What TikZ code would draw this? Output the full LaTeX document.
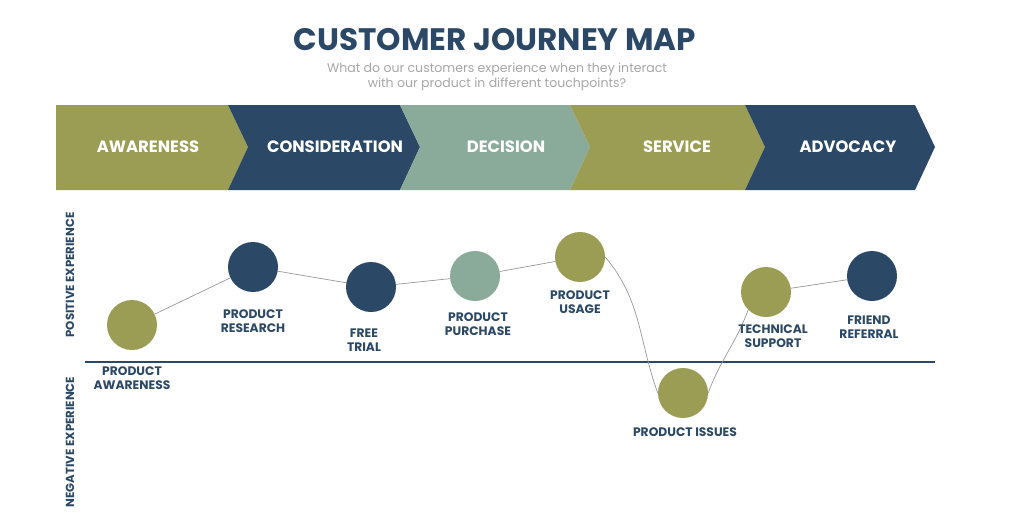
\documentclass[tikz,border=0pt]{standalone}
\usepackage{fontspec}
\setmainfont{Poppins}
\usetikzlibrary{positioning}
\definecolor{olive}{HTML}{9C9D55}
\definecolor{navy}{HTML}{2B4866}
\definecolor{sage}{HTML}{8AAA9A}
\begin{document}
\begin{tikzpicture}[x=0.03cm,y=-0.03cm]
\tikzset{
  stage/.style={text=white,font=\bfseries\fontsize{14}{14}\selectfont},
  dot/.style={circle,minimum size=1.5cm,inner sep=0pt},
  touch/.style={text=navy,font=\bfseries\fontsize{10.5}{11.5}\selectfont,align=center},
  side/.style={text=navy,font=\bfseries\fontsize{10}{10}\selectfont,rotate=90},
  link/.style={draw=gray!80,line width=0.6pt}
}
\useasboundingbox[fill=white] (0,0) rectangle (1024,528);

\node[text=navy,font=\bfseries\fontsize{26.5}{26.5}\selectfont] (title) at (495,40) {CUSTOMER JOURNEY MAP};
\node[text=gray!70,font=\fontsize{10.7}{13}\selectfont,align=center] (sub) at (497,77)
  {What do our customers experience when they interact\\with our product in different touchpoints?};

% stages
\fill[olive] (56,105) -- (228,105) -- (248,147) -- (228,190) -- (56,190) -- cycle;
\fill[navy] (228,105) -- (400,105) -- (420,147) -- (400,190) -- (228,190) -- (248,147) -- cycle;
\fill[sage] (400,105) -- (570,105) -- (590,147) -- (570,190) -- (400,190) -- (420,147) -- cycle;
\fill[olive] (570,105) -- (745,105) -- (765,147) -- (745,190) -- (570,190) -- (590,147) -- cycle;
\fill[navy] (745,105) -- (915,105) -- (935,147) -- (915,190) -- (745,190) -- (765,147) -- cycle;
\node[stage] (s1) at (148,147) {AWARENESS};
\node[stage] (s2) at (335,147) {CONSIDERATION};
\node[stage] (s3) at (506,147) {DECISION};
\node[stage] (s4) at (677,147) {SERVICE};
\node[stage] (s5) at (848,147) {ADVOCACY};

\node[side] (pos) at (70,275) {POSITIVE EXPERIENCE};
\node[side] (neg) at (70,442) {NEGATIVE EXPERIENCE};
\draw[navy,line width=1pt] (85,362) -- (935,362);

% touchpoints
\node[dot,fill=olive] (p1) at (132,325) {};
\node[dot,fill=navy] (p2) at (253,267) {};
\node[dot,fill=navy] (p3) at (371,287) {};
\node[dot,fill=sage] (p4) at (475,276) {};
\node[dot,fill=olive] (p5) at (580,257) {};
\node[dot,fill=olive] (p6) at (683,393) {};
\node[dot,fill=olive] (p7) at (766,292) {};
\node[dot,fill=navy] (p8) at (872,276) {};

\draw[link] (p1) -- (p2);
\draw[link] (p2) -- (p3);
\draw[link] (p3) -- (p4);
\draw[link] (p4) -- (p5);
\draw[link] (p5.east) to[out=-50,in=110] (p6.west);
\draw[link] (p6.east) to[out=70,in=-110] (p7.south west);
\draw[link] (p7) -- (p8);

\node[touch] (t1) at (132,378) {PRODUCT\\AWARENESS};
\node[touch] (t2) at (253,321) {PRODUCT\\RESEARCH};
\node[touch] (t3) at (364,340) {FREE\\TRIAL};
\node[touch] (t4) at (478,324) {PRODUCT\\PURCHASE};
\node[touch] (t5) at (580,302) {PRODUCT\\USAGE};
\node[touch] (t6) at (685,432) {PRODUCT ISSUES};
\node[touch] (t7) at (773,336) {TECHNICAL\\SUPPORT};
\node[touch] (t8) at (869,327) {FRIEND\\REFERRAL};
\end{tikzpicture}
\end{document}
